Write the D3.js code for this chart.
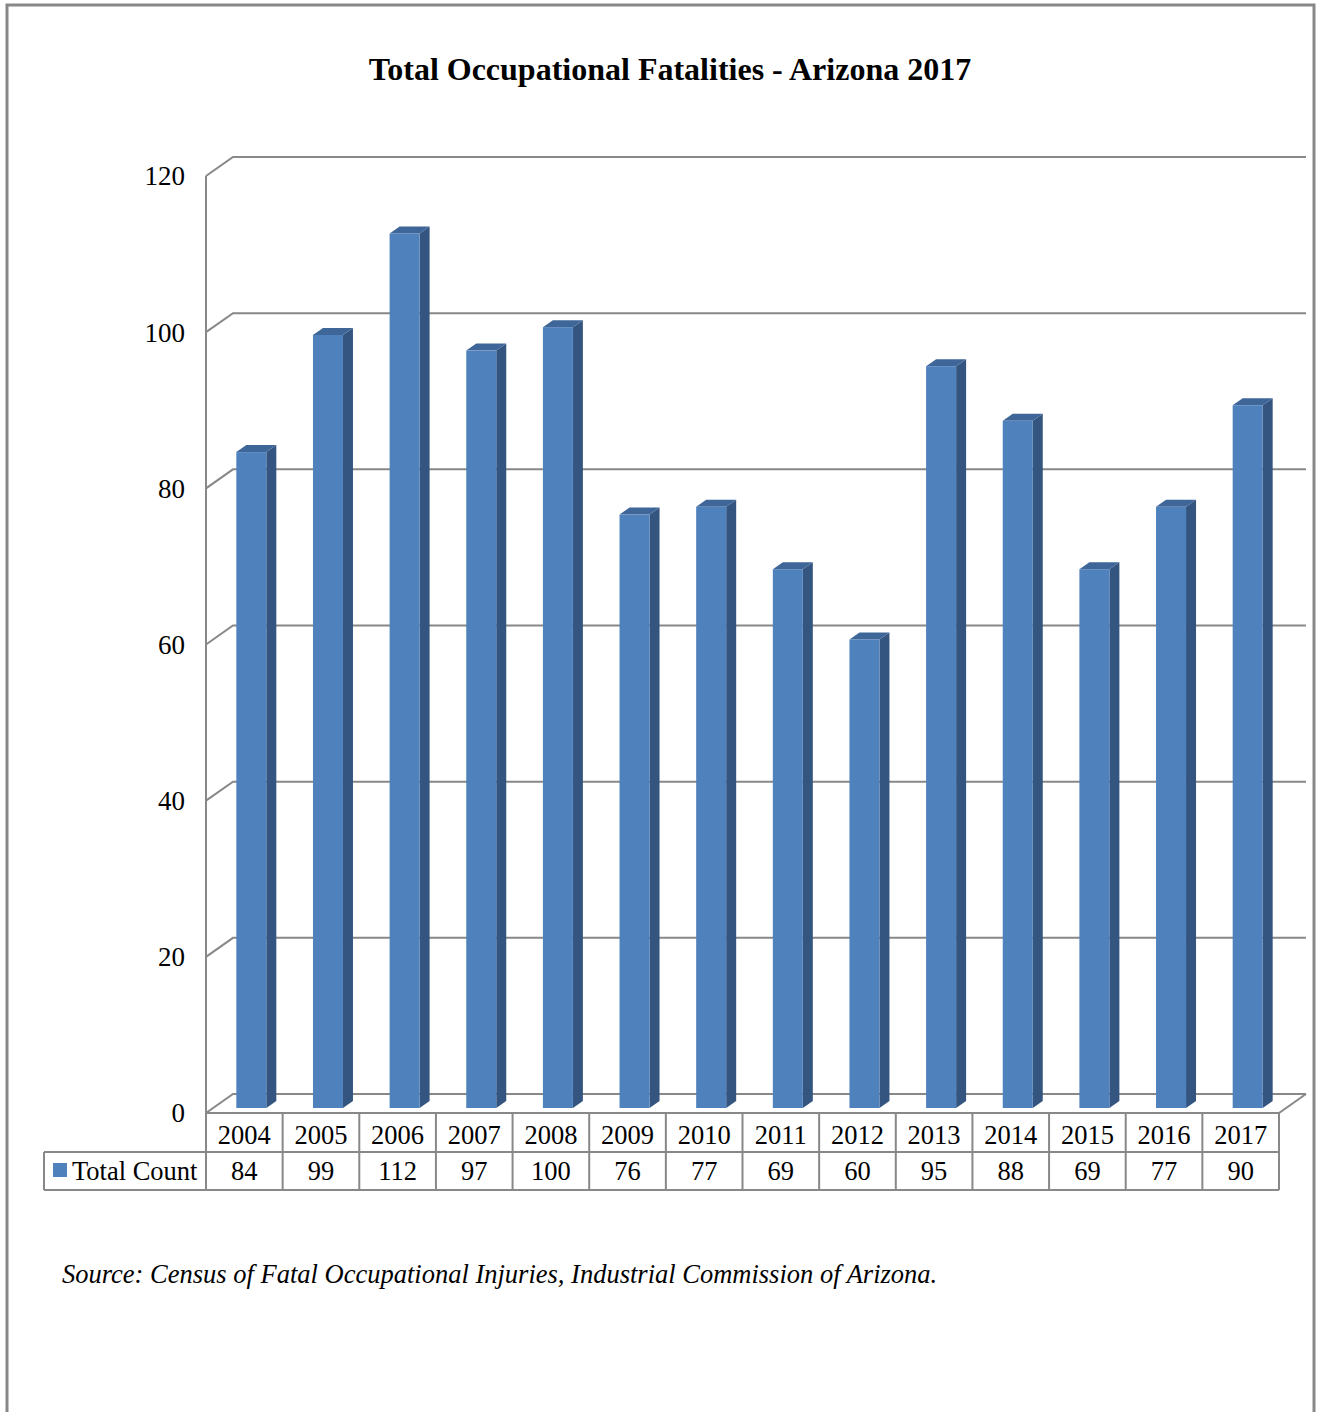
<!DOCTYPE html>
<html>
<head>
<meta charset="utf-8">
<script src="https://cdn.jsdelivr.net/npm/d3@7"></script>
<style>
  body { margin: 0; background: #fff; }
  svg { display: block; font-family: "Liberation Serif", "Times New Roman", serif; }
</style>
</head>
<body>
<svg id="chart" width="1318" height="1412"></svg>
<script>
// data
const years = ["2004", "2005", "2006", "2007", "2008", "2009", "2010", "2011", "2012", "2013", "2014", "2015", "2016", "2017"];
const counts = [84, 99, 112, 97, 100, 76, 77, 69, 60, 95, 88, 69, 77, 90];
const yTicks = [0, 20, 40, 60, 80, 100, 120];
const seriesName = "Total Count";

const svg = d3.select("svg#chart");

// outer frame
svg.append("rect")
  .attr("x", 7).attr("y", 5)
  .attr("width", 1307).attr("height", 1420)
  .style("fill", "none")
  .style("stroke", "#888")
  .style("stroke-width", 3);

svg.append("text")
  .attr("x", 670).attr("y", 80)
  .attr("text-anchor", "middle")
  .style("font-size", "32px")
  .style("font-weight", "bold")
  .text("Total Occupational Fatalities - Arizona 2017");

// plot extents (front plane)
const plotLeft = 206, plotRight = 1279, plotBottom = 1113, plotTop = 176;
const depthX = 27, depthY = -19;   // offset of back wall

const xScale = d3.scaleBand().domain(years).range([plotLeft, plotRight]);
const yScale = d3.scaleLinear().domain([0, 120]).range([plotBottom, plotTop]);

const grid = svg.append("g").attr("id", "grid")
  .style("stroke", "#888").style("stroke-width", 2).style("fill", "none");

// gridlines: diagonal on side wall then across back wall
yTicks.forEach(v => {
  const y = yScale(v);
  grid.append("path")
    .attr("d", `M${plotLeft},${y}L${plotLeft + depthX},${y + depthY}L${plotRight + depthX},${y + depthY}`);
});
// floor front / right edge and the axis line
grid.append("path")
  .attr("d", `M${plotLeft},${plotBottom}L${plotRight},${plotBottom}L${plotRight + depthX},${plotBottom + depthY}`);
grid.append("line")
  .attr("x1", plotLeft).attr("x2", plotLeft)
  .attr("y1", yScale(0)).attr("y2", yScale(120));

// tick labels
svg.append("g")
  .selectAll("text")
  .data(yTicks)
  .enter()
  .append("text")
  .attr("x", 185)
  .attr("y", d => yScale(d))
  .attr("dy", "0.35em")
  .attr("text-anchor", "end")
  .style("font-size", "27px")
  .text(d => d);

// 3d bars
const barW = 30, offX = 7, offY = -5, barDX = 10, barDY = -7;
const bars = svg.append("g").attr("id", "bars");

years.forEach((yr, i) => {
  const x0 = xScale(yr) + (xScale.bandwidth() - barW) / 2 + offX;
  const yb = yScale(0) + offY;
  const yt = yScale(counts[i]) + offY;
  const g = bars.append("g");
  g.append("path") // side
    .attr("d", `M${x0 + barW},${yt}L${x0 + barW + barDX},${yt + barDY}L${x0 + barW + barDX},${yb + barDY}L${x0 + barW},${yb}Z`)
    .style("fill", "#34557f");
  g.append("path") // top
    .attr("d", `M${x0},${yt}L${x0 + barDX},${yt + barDY}L${x0 + barW + barDX},${yt + barDY}L${x0 + barW},${yt}Z`)
    .style("fill", "#3f6698");
  g.append("rect") // front
    .attr("x", x0).attr("y", yt)
    .attr("width", barW).attr("height", yb - yt)
    .style("fill", "#4f81bd");
});

// data table
const rowTop = 1113, rowMid = 1152, rowBot = 1190, legendLeft = 44;
const table = svg.append("g").attr("id", "table")
  .style("stroke", "#888").style("stroke-width", 2).style("fill", "none");

table.append("path")
  .attr("d", `M${plotLeft},${rowTop}L${plotLeft},${rowBot}M${legendLeft},${rowMid}L${plotRight},${rowMid}` +
             `M${legendLeft},${rowBot}L${plotRight},${rowBot}M${legendLeft},${rowMid}L${legendLeft},${rowBot}`);
years.forEach(yr => {
  const xr = xScale(yr) + xScale.bandwidth();
  table.append("line")
    .attr("x1", xr).attr("x2", xr)
    .attr("y1", rowTop).attr("y2", rowBot);
});

const cells = svg.append("g").style("font-size", "26.5px").attr("text-anchor", "middle");
cells.selectAll("text.year")
  .data(years)
  .enter()
  .append("text")
  .attr("class", "year")
  .attr("x", d => xScale(d) + xScale.bandwidth() / 2)
  .attr("y", (rowTop + rowMid) / 2 + 2)
  .attr("dy", "0.35em")
  .text(d => d);
cells.selectAll("text.val")
  .data(counts)
  .enter()
  .append("text")
  .attr("class", "val")
  .attr("x", (d, i) => xScale(years[i]) + xScale.bandwidth() / 2)
  .attr("y", (rowMid + rowBot) / 2)
  .attr("dy", "0.35em")
  .text(d => d);

// legend key
svg.append("rect")
  .attr("x", 53).attr("y", 1163)
  .attr("width", 14).attr("height", 14)
  .style("fill", "#4f81bd");
svg.append("text")
  .attr("x", 72).attr("y", (rowMid + rowBot) / 2)
  .attr("dy", "0.35em")
  .style("font-size", "26.5px")
  .text(seriesName);

// source note
svg.append("text")
  .attr("x", 62).attr("y", 1283)
  .style("font-size", "26.5px")
  .style("font-style", "italic")
  .text("Source: Census of Fatal Occupational Injuries, Industrial Commission of Arizona.");
</script>
</body>
</html>
